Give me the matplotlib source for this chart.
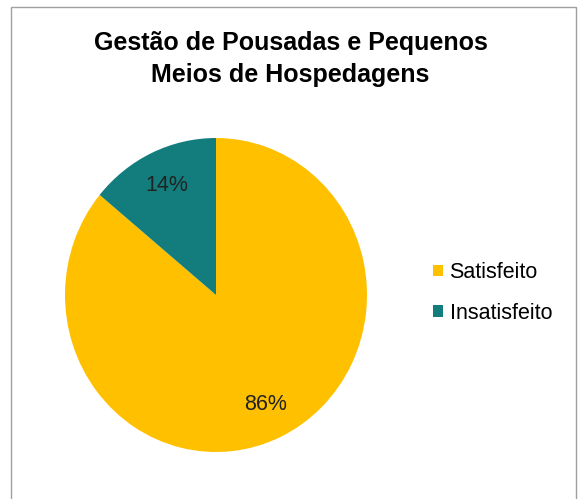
import matplotlib
matplotlib.use("Agg")
import matplotlib.pyplot as plt
from matplotlib.patches import Rectangle

plt.rcParams['font.family'] = ['Liberation Sans', 'DejaVu Sans']

title = "Gestão de Pousadas e Pequenos\nMeios de Hospedagens"
categories = ["Satisfeito", "Insatisfeito"]
values = [86, 14]
colors = ["#FFC000", "#127D7C"]

W, H = 581, 499
fig = plt.figure(figsize=(W / 100, H / 100), dpi=100)
fig.patch.set_facecolor("white")

# outer border
fig.patches.append(Rectangle((11 / W, -0.05), (576 - 11) / W, 1.05 - 7 / H,
                             transform=fig.transFigure, fill=False,
                             edgecolor="#A0A0A0", linewidth=1.0))

left, right, top, bottom = 65, 367, 138, 452
ax = fig.add_axes([left / W, 1 - bottom / H, (right - left) / W, (bottom - top) / H])
wedges, texts, autotexts = ax.pie(values, colors=colors, startangle=90,
                                  counterclock=False, autopct="%d%%",
                                  pctdistance=0.77, radius=1.0,
                                  textprops=dict(fontsize=15.5, color="#222222"))
ax.set_xlim(-1, 1)
ax.set_ylim(-1, 1)
ax.set_aspect("auto")
ax.axis("off")

fig.text(0.5, 1 - 59 / H, title, ha="center", va="center", fontsize=18,
         fontweight="bold", color="#000000", linespacing=1.38)

leg = fig.legend(wedges, categories, loc="center left",
                 bbox_to_anchor=(414 / W, 1 - 293 / H), frameon=False,
                 fontsize=15.5, handlelength=0.45, handleheight=0.45,
                 handletextpad=0.3, labelspacing=0.9)

fig.savefig("out.png", dpi=100)
